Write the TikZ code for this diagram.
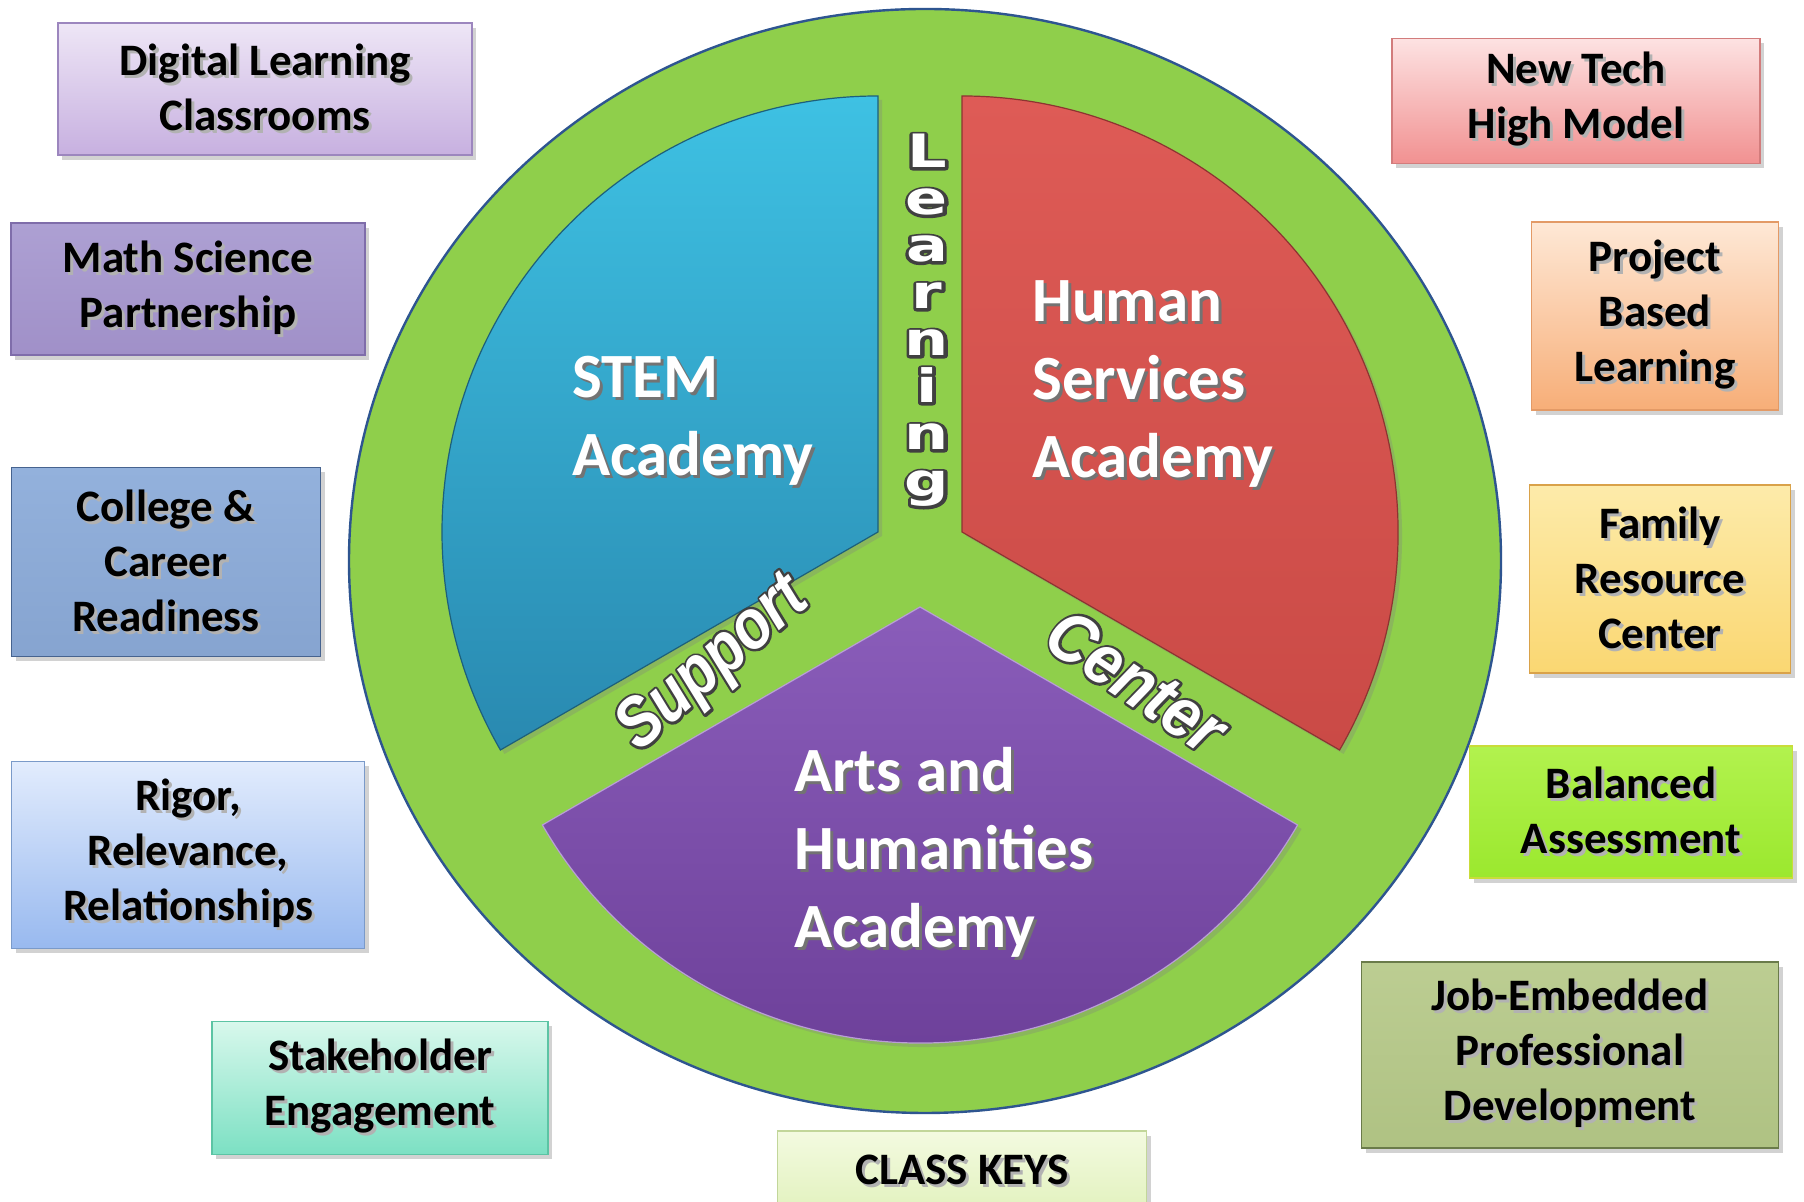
\documentclass[tikz,border=0pt]{standalone}
\usepackage{fontspec}
\setmainfont{Carlito}
\newfontfamily\lsans{Liberation Sans}
\newfontfamily\dvsans{DejaVu Sans}
\usetikzlibrary{shadows}

\definecolor{ringgreen}{HTML}{8FCF4B}
\definecolor{ringedge}{HTML}{2E5590}
\definecolor{stemtop}{HTML}{3EC1E3}
\definecolor{stembot}{HTML}{2989B0}
\definecolor{humtop}{HTML}{DE5B56}
\definecolor{humbot}{HTML}{CA4A46}
\definecolor{artstop}{HTML}{8A5DBA}
\definecolor{artsbot}{HTML}{6A3D96}
\definecolor{dlctop}{HTML}{EEE6F6}\definecolor{dlcbot}{HTML}{C7B0E0}\definecolor{dlcedge}{HTML}{9C86BE}
\definecolor{msptop}{HTML}{ADA0D3}\definecolor{mspbot}{HTML}{A090C8}\definecolor{mspedge}{HTML}{7F6DAA}
\definecolor{ccrtop}{HTML}{93B1DC}\definecolor{ccrbot}{HTML}{86A4D0}\definecolor{ccredge}{HTML}{46638F}
\definecolor{rrrtop}{HTML}{E2ECFD}\definecolor{rrrbot}{HTML}{98B9EF}\definecolor{rrredge}{HTML}{7A9AC9}
\definecolor{setop}{HTML}{D8F8EC}\definecolor{sebot}{HTML}{7CE0C3}\definecolor{seedge}{HTML}{5CC4A4}
\definecolor{cktop}{HTML}{F3FAE0}\definecolor{ckbot}{HTML}{E2F2BE}\definecolor{ckedge}{HTML}{C2D69A}
\definecolor{nthtop}{HTML}{FDE2E2}\definecolor{nthbot}{HTML}{F19191}\definecolor{nthedge}{HTML}{D27C7C}
\definecolor{pbltop}{HTML}{FEE8D6}\definecolor{pblbot}{HTML}{F7AE78}\definecolor{pbledge}{HTML}{E39A66}
\definecolor{frctop}{HTML}{FDEBAA}\definecolor{frcbot}{HTML}{FAD772}\definecolor{frcedge}{HTML}{D9A24A}
\definecolor{batop}{HTML}{B2F24E}\definecolor{babot}{HTML}{9BE82E}\definecolor{baedge}{HTML}{C9DC3A}
\definecolor{jeptop}{HTML}{BCCD92}\definecolor{jepbot}{HTML}{AFC283}\definecolor{jepedge}{HTML}{6A7B4A}

\newcommand{\shd}[2]{\rlap{\hspace{1.5pt}\raisebox{-1.5pt}{\textcolor{#1}{#2}}}#2}
\newcommand{\bl}[1]{\shd{black!30}{#1}}
\newcommand{\wl}[1]{\shd{black!55}{#1}}
% white letters with a dark rim (stroked copy underneath)
\newcommand{\ol}[1]{\rlap{\color{black!75}\special{pdf:literal direct 2 Tr 2.6 w 1 j}#1\special{pdf:literal direct 0 Tr 0.4 w}}#1}

\tikzset{
  keybox/.style={draw, line width=0.8pt, align=center, inner sep=0pt,
    font=\bfseries\fontsize{22.5}{27.5}\selectfont,
    drop shadow={opacity=0.35, shadow xshift=2pt, shadow yshift=-2.5pt}},
  slice/.style={line width=0.6pt,
    drop shadow={opacity=0.3, shadow xshift=2pt, shadow yshift=-2pt}},
  academy/.style={anchor=west, align=left, text=white, inner sep=0pt,
    font=\bfseries\fontsize{31.5}{39}\selectfont},
  rimtext/.style={text=white, font=\lsans\bfseries\itshape\fontsize{35}{35}\selectfont},
  lettr/.style={anchor=base, text=white, inner sep=0pt,
    font=\dvsans\bfseries\fontsize{23}{23}\selectfont},
}

\begin{document}
\begin{tikzpicture}[x=0.5pt, y=0.5pt]
\useasboundingbox[fill=white] (0,0) rectangle (1804,1202);
% ring
\draw[fill=ringgreen, draw=ringedge, line width=1.2pt] (925,641) ellipse [x radius=576, y radius=552];
% academies
\draw[slice, top color=stemtop, bottom color=stembot, draw=stembot!70!black] (878,670) -- ++(90:436) arc(90:210:436) -- cycle;
\draw[slice, top color=humtop, bottom color=humbot, draw=humbot!70!black] (962,670) -- ++(-30:436) arc(-30:90:436) -- cycle;
\draw[slice, top color=artstop, bottom color=artsbot, draw=artstop!60!white] (920,595) -- ++(210:436) arc(210:330:436) -- cycle;
\node[academy] (stem) at (572,780) {\wl{STEM}\\\wl{Academy}};
\node[academy] (hsa) at (1032,816) {\wl{Human}\\\wl{Services}\\\wl{Academy}};
\node[academy] (aha) at (794,348) {\wl{Arts and}\\\wl{Humanities}\\\wl{Academy}};
% Learning Support Center
\foreach \ch [count=\i] in {L,e,a,r,n,i,n,g}
  \node[lettr] (learn\i) at (927,{1034-(\i-1)*47}) {\scalebox{1.35}[1]{\ol{\ch}}};
\node[rimtext, rotate=41] (sup) at (714,537) {\scalebox{0.85}[1]{\ol{Support}}};
\node[rimtext, rotate=-34] (ctr) at (1137,521) {\scalebox{0.9}[1]{\ol{Center}}};
% left boxes
\node[keybox, minimum width=207pt, minimum height=66pt, top color=dlctop, bottom color=dlcbot, draw=dlcedge] (dlc) at (265,1113) {\bl{Digital Learning}\\\bl{Classrooms}};
\node[keybox, minimum width=177pt, minimum height=66pt, top color=msptop, bottom color=mspbot, draw=mspedge] (msp) at (188,913) {\bl{Math Science}\\\bl{Partnership}};
\node[keybox, minimum width=154.5pt, minimum height=94.5pt, top color=ccrtop, bottom color=ccrbot, draw=ccredge] (ccr) at (166,640) {\bl{College \&}\\\bl{Career}\\\bl{Readiness}};
\node[keybox, minimum width=176.5pt, minimum height=93.5pt, top color=rrrtop, bottom color=rrrbot, draw=rrredge] (rrr) at (188,347) {\bl{Rigor,}\\\bl{Relevance,}\\\bl{Relationships}};
\node[keybox, minimum width=168pt, minimum height=66.5pt, top color=setop, bottom color=sebot, draw=seedge] (se) at (380,114) {\bl{Stakeholder}\\\bl{Engagement}};
\node[keybox, minimum width=184.5pt, minimum height=40.5pt, top color=cktop, bottom color=ckbot, draw=ckedge] (ck) at (962,30.5) {\bl{CLASS KEYS}};
% right boxes
\node[keybox, minimum width=184pt, minimum height=62.5pt, top color=nthtop, bottom color=nthbot, draw=nthedge] (nth) at (1576,1101) {\bl{New Tech}\\\bl{High Model}};
\node[keybox, minimum width=123.5pt, minimum height=94pt, top color=pbltop, bottom color=pblbot, draw=pbledge] (pbl) at (1655,886) {\bl{Project}\\\bl{Based}\\\bl{Learning}};
\node[keybox, minimum width=130.5pt, minimum height=94pt, top color=frctop, bottom color=frcbot, draw=frcedge] (frc) at (1660,623) {\bl{Family}\\\bl{Resource}\\\bl{Center}};
\node[keybox, minimum width=161.5pt, minimum height=66pt, top color=batop, bottom color=babot, draw=baedge] (ba) at (1631,390) {\bl{Balanced}\\\bl{Assessment}};
\node[keybox, minimum width=208.5pt, minimum height=93pt, top color=jeptop, bottom color=jepbot, draw=jepedge] (jep) at (1570,147) {\bl{Job-Embedded}\\\bl{Professional}\\\bl{Development}};
\end{tikzpicture}
\end{document}
